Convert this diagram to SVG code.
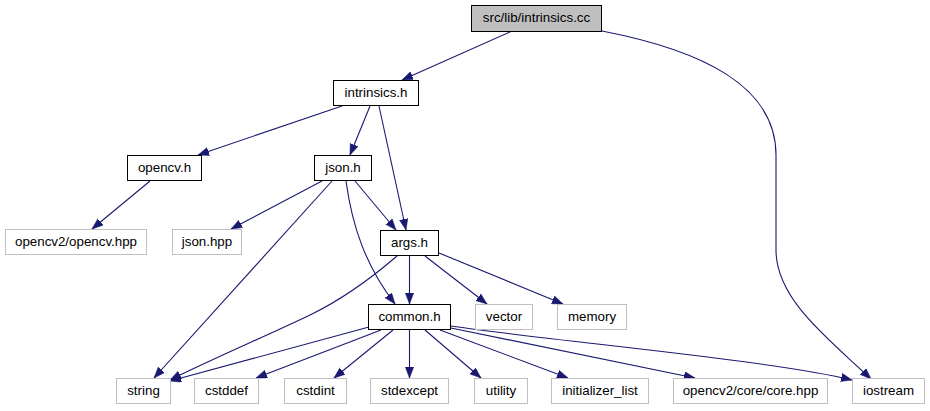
<svg xmlns="http://www.w3.org/2000/svg" width="930" height="411" viewBox="0 0 930 411">
<style>
.n rect{fill:#fff;stroke:#000;stroke-width:1}
.l rect{fill:#fff;stroke:#bfbfbf;stroke-width:1}
.r rect{fill:#bfbfbf;stroke:#000;stroke-width:1}
text{font-family:"Liberation Sans",Arial,Helvetica,sans-serif;font-size:13.33px;fill:#000;text-anchor:middle}
#edges path{fill:none;stroke:#191970;stroke-width:1.1;marker-end:url(#ah)}
</style>
<defs>
<marker id="ah" markerUnits="userSpaceOnUse" markerWidth="12" markerHeight="9" refX="11" refY="4.2" orient="auto">
<path d="M0,0 L11,4.2 L0,8.4 z" fill="#191970" stroke="#191970" stroke-width="0.5"/>
</marker>
</defs>
<rect width="930" height="411" fill="#fff"/>
<g id="edges">
<path d="M510,32 L402,80"/>
<path d="M602,31 C700,50 776,85 776,155 L776,250 C776,300 830,340 871,379"/>
<path d="M342,106 L198,155"/>
<path d="M370,106 L350,155"/>
<path d="M379,106 L406,230"/>
<path d="M150,181 L92,229"/>
<path d="M322,181 L231,229"/>
<path d="M355,181 L396,230"/>
<path d="M332,181 L154,378"/>
<path d="M346,181 C352,225 365,265 395,304"/>
<path d="M409.5,256 L409.5,304"/>
<path d="M397,256 C375,275 345,298 310,315 S210,360 170,380"/>
<path d="M369,327 L170,381"/>
<path d="M381,330 L256,378"/>
<path d="M393,330 L334,378"/>
<path d="M409.5,330 L409.5,378"/>
<path d="M425,330 L481,378"/>
<path d="M440,330 L568,378"/>
<path d="M451,328 L695,378"/>
<path d="M451,326 C560,342 770,360 852,380"/>
<path d="M425,256 L487,304"/>
<path d="M439,253 L563,304"/>
</g>
<g id="node-root" class="r"><rect x="471.5" y="5.5" width="130" height="26"/><text x="536.5" y="22">src/lib/intrinsics.cc</text></g>
<g id="node-intrinsics-h" class="n"><rect x="333.5" y="80.5" width="85" height="25"/><text x="376" y="97">intrinsics.h</text></g>
<g id="node-opencv-h" class="n"><rect x="127.5" y="155.5" width="74" height="25"/><text x="164.5" y="172">opencv.h</text></g>
<g id="node-json-h" class="n"><rect x="314.5" y="155.5" width="57" height="25"/><text x="343" y="172">json.h</text></g>
<g id="node-opencv-hpp" class="l"><rect x="5.5" y="229.5" width="141" height="25"/><text x="76" y="246">opencv2/opencv.hpp</text></g>
<g id="node-json-hpp" class="l"><rect x="172.5" y="229.5" width="69" height="25"/><text x="207" y="246">json.hpp</text></g>
<g id="node-args-h" class="n"><rect x="380.5" y="230.5" width="58" height="25"/><text x="409.5" y="247">args.h</text></g>
<g id="node-common-h" class="n"><rect x="368.5" y="304.5" width="82" height="25"/><text x="409.5" y="321">common.h</text></g>
<g id="node-vector" class="l"><rect x="475.5" y="304.5" width="57" height="25"/><text x="504" y="321">vector</text></g>
<g id="node-memory" class="l"><rect x="557.5" y="304.5" width="69" height="25"/><text x="592" y="321">memory</text></g>
<g id="node-string" class="l"><rect x="116.5" y="378.5" width="54" height="25"/><text x="143.5" y="395">string</text></g>
<g id="node-cstddef" class="l"><rect x="194.5" y="378.5" width="64" height="25"/><text x="226.5" y="395">cstddef</text></g>
<g id="node-cstdint" class="l"><rect x="284.5" y="378.5" width="62" height="25"/><text x="315.5" y="395">cstdint</text></g>
<g id="node-stdexcept" class="l"><rect x="370.5" y="378.5" width="78" height="25"/><text x="409.5" y="395">stdexcept</text></g>
<g id="node-utility" class="l"><rect x="474.5" y="378.5" width="53" height="25"/><text x="501" y="395">utility</text></g>
<g id="node-initializer-list" class="l"><rect x="551.5" y="378.5" width="97" height="25"/><text x="600" y="395">initializer_list</text></g>
<g id="node-core-hpp" class="l"><rect x="673.5" y="378.5" width="154" height="25"/><text x="750.5" y="395">opencv2/core/core.hpp</text></g>
<g id="node-iostream" class="l"><rect x="852.5" y="378.5" width="72" height="25"/><text x="888.5" y="395">iostream</text></g>
</svg>
